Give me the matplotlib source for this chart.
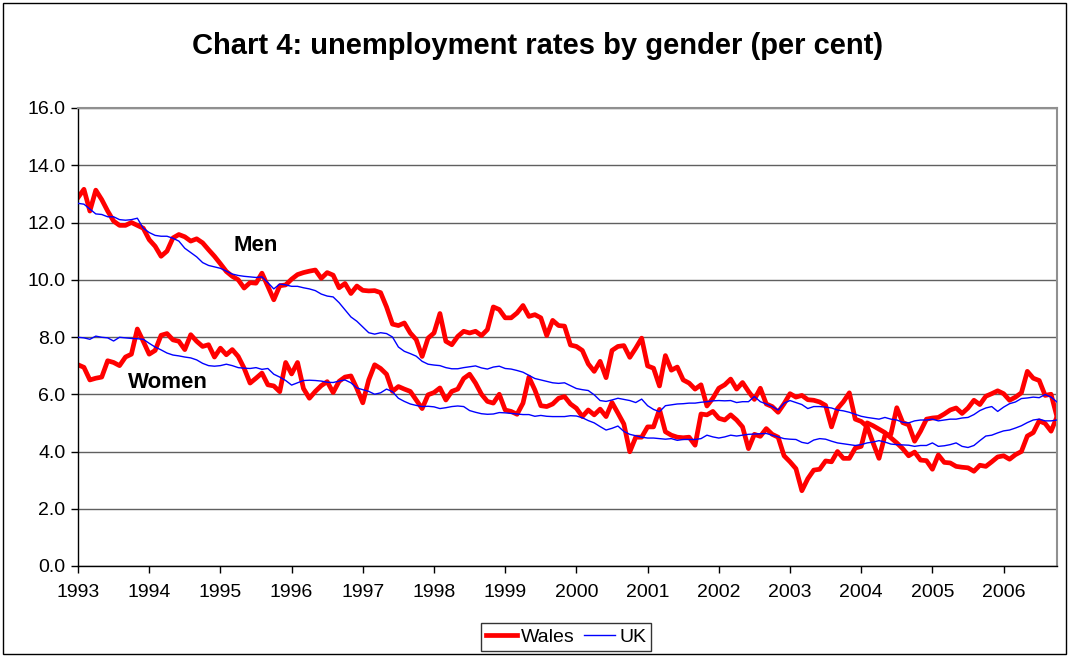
import matplotlib
matplotlib.use("Agg")
import matplotlib.pyplot as plt
import numpy as np
from matplotlib.patches import Rectangle

# monthly series, Jan 1993 .. Oct 2006
years = [1993, 1994, 1995, 1996, 1997, 1998, 1999, 2000, 2001, 2002, 2003, 2004, 2005, 2006]
y_ticks = [0, 2, 4, 6, 8, 10, 12, 14, 16]

wales_men = [
    12.87, 13.16, 12.4, 13.13, 12.8, 12.4, 12.05, 11.9, 11.9, 12.0, 11.9, 11.8,
    11.4, 11.17, 10.82, 11.0, 11.46, 11.58, 11.5, 11.35, 11.43, 11.29, 11.05, 10.82,
    10.56, 10.29, 10.12, 10.0, 9.71, 9.9, 9.88, 10.23, 9.77, 9.3, 9.79, 9.82,
    10.02, 10.18, 10.25, 10.3, 10.34, 10.05, 10.25, 10.16, 9.72, 9.87, 9.52, 9.78,
    9.63, 9.61, 9.62, 9.55, 9.05, 8.45, 8.4, 8.49, 8.14, 7.91, 7.32, 7.96,
    8.14, 8.82, 7.85, 7.73, 8.02, 8.2, 8.14, 8.2, 8.05, 8.26, 9.05, 8.96,
    8.67, 8.67, 8.84, 9.1, 8.72, 8.78, 8.67, 8.05, 8.58, 8.4, 8.38, 7.72,
    7.67, 7.53, 7.06, 6.8, 7.15, 6.58, 7.53, 7.67, 7.7, 7.29, 7.61, 7.96,
    6.99, 6.91, 6.29, 7.35, 6.84, 6.95, 6.5, 6.39, 6.18, 6.33, 5.59, 5.86,
    6.21, 6.33, 6.53, 6.18, 6.41, 6.1, 5.82, 6.21, 5.66, 5.57, 5.37, 5.67,
    6.02, 5.9, 5.96, 5.81, 5.79, 5.73, 5.61, 4.86, 5.5, 5.74, 6.05, 5.13,
    5.05, 4.87, 4.3, 3.76, 4.56, 4.6, 5.53, 5.01, 4.93, 4.36, 4.71, 5.13,
    5.17, 5.19, 5.31, 5.45, 5.52, 5.33, 5.52, 5.79, 5.64, 5.93, 6.02, 6.12,
    6.02, 5.79, 5.9, 6.05, 6.8, 6.56, 6.48, 5.96, 6.0, 5.21,
]

wales_women = [
    7.03, 6.94, 6.5, 6.56, 6.6, 7.17, 7.11, 7.0, 7.3, 7.4, 8.28, 7.85,
    7.4, 7.53, 8.06, 8.12, 7.9, 7.85, 7.56, 8.08, 7.85, 7.67, 7.73, 7.3,
    7.61, 7.38, 7.56, 7.32, 6.91, 6.39, 6.56, 6.74, 6.33, 6.29, 6.09, 7.11,
    6.71, 7.11, 6.2, 5.86, 6.1, 6.3, 6.44, 6.06, 6.45, 6.6, 6.64, 6.2,
    5.7, 6.5, 7.03, 6.9, 6.7, 6.1, 6.27, 6.18, 6.1, 5.8, 5.5, 5.98,
    6.06, 6.22, 5.8, 6.1, 6.18, 6.55, 6.7, 6.39, 6.0, 5.75, 5.69, 6.0,
    5.45, 5.4, 5.3, 5.69, 6.6, 6.15, 5.6, 5.57, 5.66, 5.86, 5.92, 5.66,
    5.51, 5.22, 5.45, 5.28, 5.48, 5.22, 5.71, 5.34, 4.96, 3.99, 4.5, 4.5,
    4.86, 4.86, 5.47, 4.69, 4.57, 4.5, 4.48, 4.5, 4.22, 5.31, 5.28, 5.4,
    5.16, 5.1, 5.28, 5.1, 4.86, 4.1, 4.6, 4.53, 4.8, 4.6, 4.5, 3.85,
    3.64, 3.4, 2.63, 3.05, 3.35, 3.38, 3.67, 3.64, 4.0, 3.76, 3.76, 4.12,
    4.18, 5.0, 4.9, 4.78, 4.66, 4.48, 4.3, 4.1, 3.85, 3.98, 3.7, 3.68,
    3.38, 3.88, 3.62, 3.6, 3.48, 3.45, 3.43, 3.31, 3.52, 3.48, 3.64, 3.81,
    3.85, 3.73, 3.89, 4.0, 4.54, 4.66, 5.07, 4.98, 4.71, 5.21,
]

uk_men = [
    12.67, 12.64, 12.47, 12.3, 12.28, 12.2, 12.2, 12.1, 12.08, 12.1, 12.15, 11.8,
    11.65, 11.55, 11.52, 11.52, 11.45, 11.35, 11.1, 10.95, 10.8, 10.6, 10.5, 10.45,
    10.4, 10.3, 10.2, 10.15, 10.12, 10.1, 10.08, 10.1, 9.9, 9.68, 9.85, 9.82,
    9.77, 9.77, 9.72, 9.68, 9.62, 9.5, 9.43, 9.4, 9.2, 8.95, 8.7, 8.55,
    8.35, 8.15, 8.1, 8.15, 8.12, 8.0, 7.65, 7.5, 7.42, 7.33, 7.15, 7.05,
    7.02, 7.0, 6.93, 6.89, 6.89, 6.93, 6.96, 6.99, 6.92, 6.88, 6.95, 6.98,
    6.9, 6.88, 6.83, 6.77, 6.66, 6.55, 6.5, 6.45, 6.4, 6.38, 6.4, 6.3,
    6.2, 6.16, 6.13, 5.98, 5.78, 5.75, 5.8, 5.86, 5.82, 5.78, 5.71, 5.83,
    5.6, 5.47, 5.39, 5.6, 5.63, 5.66, 5.67, 5.69, 5.69, 5.72, 5.74, 5.77,
    5.78, 5.77, 5.78, 5.71, 5.74, 5.74, 5.92, 5.74, 5.66, 5.57, 5.45, 5.69,
    5.78, 5.71, 5.64, 5.5, 5.57, 5.57, 5.55, 5.52, 5.45, 5.42, 5.37, 5.3,
    5.23, 5.19, 5.16, 5.13, 5.19, 5.13, 5.1, 5.02, 5.0, 5.07, 5.1, 5.1,
    5.13, 5.07, 5.1, 5.13, 5.13, 5.17, 5.19, 5.29, 5.43, 5.52, 5.57, 5.4,
    5.55, 5.67, 5.73, 5.85, 5.87, 5.9, 5.88, 5.99, 5.9, 5.73,
]

uk_women = [
    7.99, 7.97, 7.92, 8.03, 7.99, 7.97, 7.86, 7.99, 7.97, 7.95, 7.94, 7.92,
    7.78, 7.65, 7.55, 7.44, 7.37, 7.34, 7.3, 7.27, 7.2, 7.08, 7.0, 6.98,
    7.0, 7.05, 7.0, 6.93, 6.91, 6.9, 6.93, 6.87, 6.9, 6.7, 6.6, 6.48,
    6.32, 6.4, 6.48, 6.49, 6.48, 6.46, 6.42, 6.41, 6.46, 6.5, 6.4, 6.22,
    6.16, 6.1, 6.0, 6.05, 6.18, 6.09, 5.86, 5.75, 5.66, 5.61, 5.57, 5.58,
    5.56, 5.5, 5.53, 5.57, 5.59, 5.57, 5.43, 5.37, 5.32, 5.3, 5.31, 5.36,
    5.35, 5.33, 5.31, 5.29, 5.29, 5.23, 5.26, 5.23, 5.22, 5.22, 5.22, 5.25,
    5.24, 5.18, 5.08, 5.0, 4.87, 4.75, 4.81, 4.89, 4.7, 4.6, 4.55, 4.5,
    4.47, 4.47, 4.45, 4.43, 4.45, 4.39, 4.42, 4.42, 4.42, 4.45, 4.57, 4.51,
    4.47, 4.51, 4.57, 4.54, 4.57, 4.6, 4.61, 4.62, 4.63, 4.57, 4.51, 4.45,
    4.43, 4.42, 4.32, 4.28, 4.4, 4.45, 4.43, 4.36, 4.3, 4.27, 4.24, 4.21,
    4.24, 4.3, 4.33, 4.38, 4.33, 4.26, 4.24, 4.23, 4.22, 4.18, 4.21, 4.21,
    4.3, 4.18, 4.2, 4.24, 4.3, 4.18, 4.14, 4.21, 4.38, 4.54, 4.57, 4.65,
    4.72, 4.75, 4.82, 4.9, 5.01, 5.1, 5.13, 5.07, 5.07, 5.1,
]

plt.rcParams['font.family'] = ['Liberation Sans', 'DejaVu Sans']

W, H = 1069, 657
fig = plt.figure(figsize=(W / 100, H / 100), dpi=100)

# plot area in pixels: x 78..1057, y 108..566
ax = fig.add_axes([78 / W, 1 - 566 / H, (1057 - 78) / W, (566 - 108) / H])

x = np.arange(len(wales_men))
ax.plot(x, wales_men, color='#ff0000', lw=3.4, label='Wales', zorder=2)
ax.plot(x, wales_women, color='#ff0000', lw=3.4, zorder=2)
ax.plot(x, uk_men, color='#0000ff', lw=1.0, label='UK', zorder=3)
ax.plot(x, uk_women, color='#0000ff', lw=1.0, zorder=3)

ax.set_xlim(0, len(x) - 1)
ax.set_ylim(0, 16)
ax.set_yticks(y_ticks)
ax.set_yticklabels([f'{v:.1f}' for v in y_ticks])
ax.set_xticks([12 * k for k in range(len(years))])
ax.set_xticklabels([str(y) for y in years])
ax.tick_params(axis='both', labelsize=14, direction='out', length=5, width=1, color='black')
ax.tick_params(axis='x', pad=8)
ax.tick_params(axis='y', pad=4)

ax.yaxis.grid(True, color='#606060', lw=1)
ax.set_axisbelow(True)
for side in ['top', 'right']:
    ax.spines[side].set_color('#909090')
    ax.spines[side].set_linewidth(1.5)
for side in ['left', 'bottom']:
    ax.spines[side].set_color('black')
    ax.spines[side].set_linewidth(1)

ax.text(30, 11.2, 'Men', fontsize=16, fontweight='bold', ha='center', va='center')
ax.text(15.2, 6.4, 'Women', fontsize=16, fontweight='bold', ha='center', va='center')

fig.text(0.503, 1 - 46 / H, 'Chart 4: unemployment rates by gender (per cent)',
         ha='center', va='center', fontsize=21, fontweight='bold')

leg = fig.legend(loc='center', bbox_to_anchor=(566 / W, 1 - 637 / H), ncol=2,
                 fontsize=14, frameon=True, fancybox=False, edgecolor='black',
                 handlelength=1.6, handletextpad=0.2, columnspacing=0.5,
                 borderpad=0.25, borderaxespad=0)
leg.get_frame().set_linewidth(1)

fig.add_artist(Rectangle((3 / W, 3 / H), (W - 6) / W, (H - 6) / H,
                         transform=fig.transFigure, fill=False, ec='black', lw=1))

fig.savefig('out.png', dpi=100)
